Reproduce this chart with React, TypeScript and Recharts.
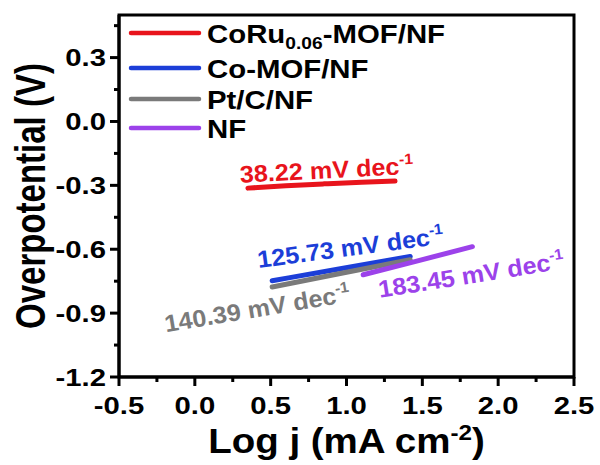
import React from "react";
import {
  LineChart,
  Line,
  XAxis,
  YAxis,
  ReferenceArea,
  ReferenceDot,
  Label,
  Legend,
} from "recharts";

const FONT = '"Liberation Sans", Arial, Helvetica, sans-serif';

// axis ticks
const xMajor = [-0.5, 0, 0.5, 1, 1.5, 2, 2.5];
const xMinor = [-0.25, 0.25, 0.75, 1.25, 1.75, 2.25];
const yMajor = [-1.2, -0.9, -0.6, -0.3, 0, 0.3];
const yMinor = [-1.05, -0.75, -0.45, -0.15, 0.15, 0.45];

// Tafel fits, log j vs overpotential
const coRuData = [
  { x: 0.35, y: -0.313 },
  { x: 0.6, y: -0.302 },
  { x: 0.85, y: -0.293 },
  { x: 1.1, y: -0.285 },
  { x: 1.32, y: -0.28 },
];
const coMofData = [
  { x: 0.51, y: -0.748 },
  { x: 0.95, y: -0.693 },
  { x: 1.42, y: -0.634 },
];
const ptcData = [
  { x: 0.51, y: -0.777 },
  { x: 0.95, y: -0.715 },
  { x: 1.42, y: -0.649 },
];
const nfData = [
  { x: 1.11, y: -0.72 },
  { x: 1.45, y: -0.658 },
  { x: 1.83, y: -0.588 },
];

const seriesNames = ["CoRu0.06-MOF/NF", "Co-MOF/NF", "Pt/C/NF", "NF"];
const seriesColors = ["#e8141c", "#1c3ed8", "#7a7a7a", "#9c42ea"];
const seriesData = [coRuData, coMofData, ptcData, nfData];
const slopes = ["38.22", "125.73", "140.39", "183.45"];

// where each slope label starts (baseline-left) and its tilt
const labelSpots = [
  { x: 0.3, y: -0.288, tilt: -3 },
  { x: 0.42, y: -0.688, tilt: -7.5 },
  { x: -0.19, y: -0.99, tilt: -9.5 },
  { x: 1.22, y: -0.828, tilt: -9 },
];

const TICK_SIZE = 8;
const TICK_MARGIN = 4;
const STRETCH = 1.22;

const fmt = (v: number) => v.toFixed(1);

function XTick(props: any) {
  const { x, y, payload } = props;
  const major = xMajor.includes(payload.value);
  const axisY = y - TICK_SIZE - TICK_MARGIN;
  return (
    <g>
      <line x1={x} x2={x} y1={axisY} y2={axisY + (major ? 9 : 5)} stroke="#000" strokeWidth={3} />
      {major && (
        <text
          transform={`translate(${x},${axisY + 37}) scale(${STRETCH},1)`}
          textAnchor="middle"
          fontFamily={FONT}
          fontWeight="bold"
          fontSize={24}
          fill="#000"
        >
          {fmt(payload.value)}
        </text>
      )}
    </g>
  );
}

function YTick(props: any) {
  const { x, y, payload } = props;
  const major = yMajor.includes(payload.value);
  const axisX = x + TICK_SIZE + TICK_MARGIN;
  return (
    <g>
      <line x1={axisX} x2={axisX - (major ? 9 : 5)} y1={y} y2={y} stroke="#000" strokeWidth={3} />
      {major && (
        <text
          transform={`translate(${axisX - 13},${y + 8.5}) scale(${STRETCH},1)`}
          textAnchor="end"
          fontFamily={FONT}
          fontWeight="bold"
          fontSize={24}
          fill="#000"
        >
          {fmt(payload.value)}
        </text>
      )}
    </g>
  );
}

function YTitle(props: any) {
  const vb = props.viewBox;
  const cx = vb.x + 45;
  const cy = vb.y + vb.height / 2;
  return (
    <text
      transform={`translate(${cx},${cy}) scale(1.3,1) rotate(-90)`}
      textAnchor="middle"
      fontFamily={FONT}
      fontWeight="bold"
      fontSize={33}
      fill="#000"
    >
      Overpotential (V)
    </text>
  );
}

function XTitle(props: any) {
  const vb = props.viewBox;
  const cx = vb.x + vb.width / 2;
  return (
    <text
      transform={`translate(${cx},${vb.y + 76}) scale(1.1,1)`}
      textAnchor="middle"
      fontFamily={FONT}
      fontWeight="bold"
      fontSize={35}
      fill="#000"
    >
      Log j (mA cm
      <tspan dy={-13} fontSize={22}>-2</tspan>
      <tspan dy={13}>)</tspan>
    </text>
  );
}

function SlopeText({ viewBox, slope, tone, tilt }: any) {
  const x = viewBox.x + viewBox.width / 2;
  const y = viewBox.y + viewBox.height / 2;
  return (
    <text
      transform={`translate(${x},${y}) rotate(${tilt}) scale(1.05,1)`}
      fontFamily={FONT}
      fontWeight="bold"
      fontSize={24}
      fill={tone}
    >
      {slope} mV dec
      <tspan dy={-10} fontSize={15}>-1</tspan>
    </text>
  );
}

function LegendBox() {
  const rows = [19, 54, 85, 114];
  return (
    <svg width={340} height={130} style={{ overflow: "visible" }}>
      {seriesNames.map((name, i) => (
        <g key={name}>
          <line x1={7} x2={75} y1={rows[i]} y2={rows[i]} stroke={seriesColors[i]} strokeWidth={4.5} strokeLinecap="round" />
          <text
            transform={`translate(83,${rows[i] + 9.5}) scale(1.13,1)`}
            fontFamily={FONT}
            fontWeight="bold"
            fontSize={26}
            fill="#000"
          >
            {i === 0 ? (
              <>
                CoRu
                <tspan dy={6} fontSize={17}>0.06</tspan>
                <tspan dy={-6}>-MOF/NF</tspan>
              </>
            ) : (
              name
            )}
          </text>
        </g>
      ))}
    </svg>
  );
}

export default function App() {
  return (
    <div style={{ position: "absolute", left: 0, top: 0, width: 600, height: 465, background: "#fff" }}>
      <LineChart width={600} height={465} margin={{ top: 15, right: 26, bottom: 0, left: 0 }}>
        <XAxis
          type="number"
          dataKey="x"
          domain={[-0.5, 2.5]}
          ticks={[...xMajor, ...xMinor].sort((a, b) => a - b)}
          interval={0}
          height={88}
          tickSize={TICK_SIZE}
          tickMargin={TICK_MARGIN}
          tickLine={false}
          axisLine={{ stroke: "#000", strokeWidth: 3 }}
          tick={<XTick />}
          allowDataOverflow
        >
          <Label content={<XTitle />} />
        </XAxis>
        <YAxis
          type="number"
          domain={[-1.2, 0.5]}
          ticks={[...yMajor, ...yMinor].sort((a, b) => a - b)}
          interval={0}
          width={119}
          tickSize={TICK_SIZE}
          tickMargin={TICK_MARGIN}
          tickLine={false}
          axisLine={{ stroke: "#000", strokeWidth: 3 }}
          tick={<YTick />}
          allowDataOverflow
        >
          <Label content={<YTitle />} />
        </YAxis>
        <ReferenceArea x1={-0.5} x2={2.5} y1={-1.2} y2={0.5} fill="none" stroke="#000" strokeWidth={3} ifOverflow="visible" />
        {seriesData.map((d, i) => (
          <Line
            key={seriesNames[i]}
            data={d}
            dataKey="y"
            name={seriesNames[i]}
            type="monotone"
            stroke={seriesColors[i]}
            strokeWidth={5}
            strokeLinecap="round"
            dot={false}
            activeDot={false}
            isAnimationActive={false}
          />
        ))}
        {labelSpots.map((s, i) => (
          <ReferenceDot key={slopes[i]} x={s.x} y={s.y} r={1} fill="none" stroke="none" ifOverflow="visible">
            <Label content={<SlopeText slope={slopes[i]} tone={seriesColors[i]} tilt={s.tilt} />} />
          </ReferenceDot>
        ))}
        <Legend
          layout="horizontal"
          align="center"
          verticalAlign="middle"
          wrapperStyle={{ left: 124, top: 14, width: 340, height: 130 }}
          content={<LegendBox />}
        />
      </LineChart>
    </div>
  );
}
